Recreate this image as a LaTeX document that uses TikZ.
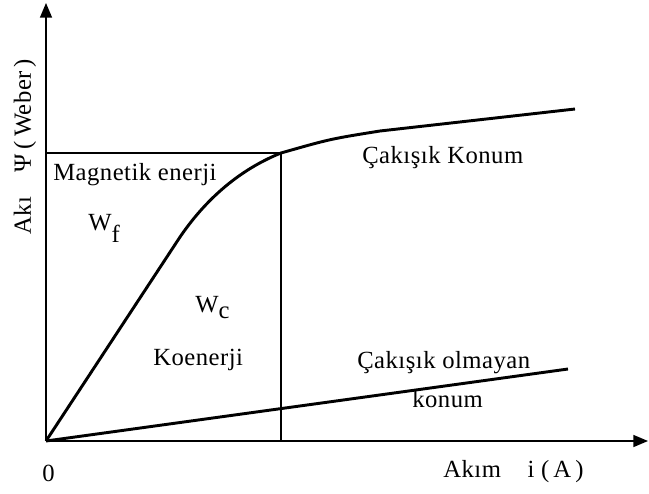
\documentclass[tikz,border=0pt]{standalone}
\usepackage{fontspec}
\setmainfont[LetterSpace=2]{Liberation Serif}
\usetikzlibrary{arrows.meta}

\begin{document}
\begin{tikzpicture}[x=0.75pt, y=-0.75pt,
    axis/.style={line width=1.1pt, -{Triangle[length=11pt,width=9pt]}},
    guide/.style={line width=0.9pt},
    curve/.style={line width=2.2pt},
    lbl/.style={font=\fontsize{18.5}{22}\selectfont, inner sep=0pt, anchor=base west}]
  \useasboundingbox (0,0) rectangle (649,493);
  \coordinate (O) at (46,441);
  \coordinate (ytip) at (46,3);
  \coordinate (xtip) at (648,441);
  \coordinate (knee) at (281,153);
  \coordinate (bend) at (180,237);
  \coordinate (flat) at (380,131);
  \coordinate (aEnd) at (575,109);
  \coordinate (uEnd) at (568,369);
  % axes
  \draw[axis] (O) -- (ytip);
  \draw[axis] (O) -- (xtip);
  \draw[guide] (O |- knee) -- (knee) -- (knee |- O);
  % aligned and unaligned position
  \draw[curve] (O) -- (bend) .. controls (210,193) and (246,167) .. (knee)
    .. controls (330,139) .. (flat) -- (aEnd);
  \draw[curve] (O) -- (uEnd);
  % texts
  \node[lbl] (magn) at (53,180) {Magnetik enerji};
  \node[lbl] (wf) at (88,230) {W\raisebox{-9pt}{f}};
  \node[lbl] (wc) at (195,312) {W\raisebox{-4.5pt}{c}};
  \node[lbl] (koen) at (153,365) {Koenerji};
  \node[lbl] (align) at (362,163) {Çakışık Konum};
  \node[lbl] (unal) at (357,368) {Çakışık olmayan};
  \node[lbl] (kon) at (412,407) {konum};
  \node[lbl] (zero) at (42,481) {0};
  \node[lbl] (xlab) at (443,477) {Akım\hspace{20pt}i (\,A\,)};
  \node[lbl, rotate=90] (ylab) at (31,235) {Akı\hspace{18pt}Ψ\hspace{4pt}(\,Weber\,)};
\end{tikzpicture}
\end{document}
